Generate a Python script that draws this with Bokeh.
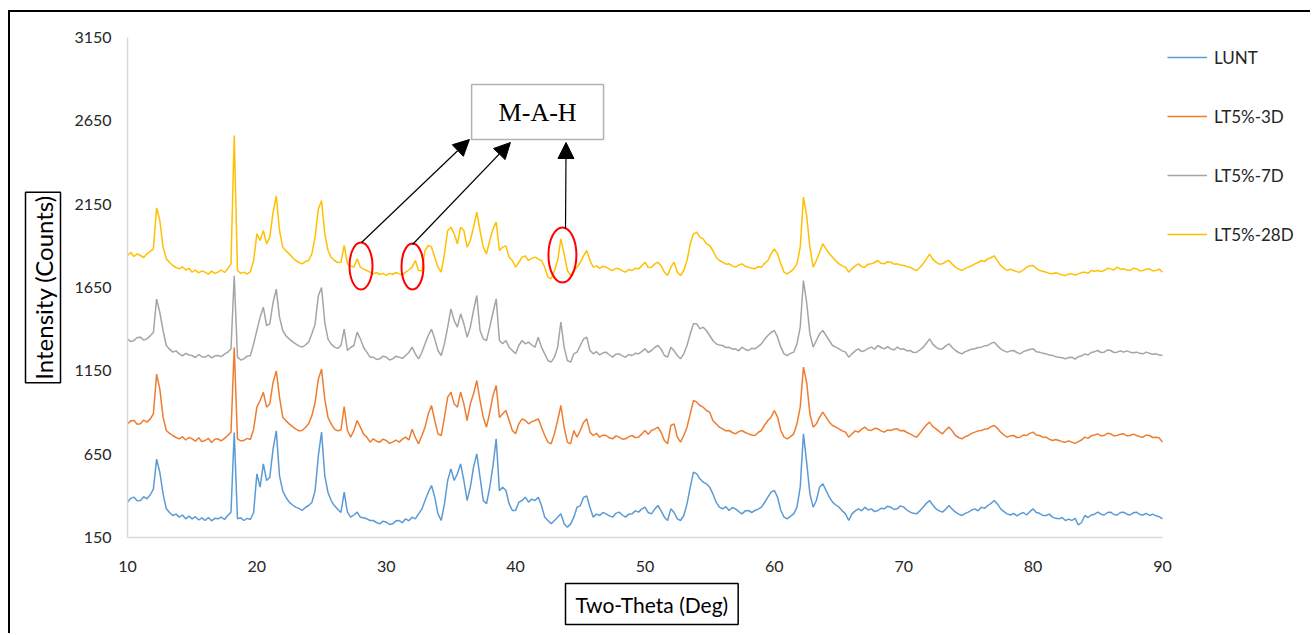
from bokeh.plotting import figure
from bokeh.models import (FixedTicker, Legend, LegendItem, Label, Arrow, NormalHead,
                          Range1d, BoxAnnotation, ColumnDataSource, Title)
from bokeh.embed import file_html
from bokeh.resources import INLINE

# ---------------- data ----------------
two_theta = [10 + 0.25 * i for i in range(321)]

lunt = [
    362, 385, 392, 370, 372, 395, 382, 405, 440, 620, 540, 412, 322, 300, 282, 290, 272, 285, 262, 278,
    262, 275, 255, 268, 252, 270, 250, 265, 262, 272, 258, 282, 302, 780, 262, 268, 252, 265, 258, 300,
    532, 452, 592, 492, 512, 680, 790, 520, 430, 390, 362, 345, 332, 325, 312, 330, 342, 360, 430, 640,
    782, 520, 420, 370, 340, 320, 300, 422, 302, 272, 285, 302, 272, 268, 262, 252, 252, 240, 232, 248,
    242, 228, 232, 250, 252, 238, 262, 250, 272, 262, 292, 320, 372, 422, 462, 392, 292, 252, 352, 492,
    562, 492, 532, 592, 492, 372, 452, 572, 652, 512, 372, 352, 450, 580, 742, 430, 452, 432, 352, 312,
    312, 362, 372, 392, 362, 380, 372, 392, 342, 272, 252, 232, 252, 272, 292, 232, 212, 230, 272, 332,
    340, 390, 400, 330, 272, 290, 282, 300, 292, 280, 272, 295, 302, 285, 272, 290, 292, 310, 302, 320,
    332, 300, 292, 320, 342, 310, 272, 252, 322, 300, 262, 252, 282, 352, 452, 542, 532, 502, 482, 472,
    452, 412, 362, 332, 322, 335, 312, 330, 322, 305, 292, 310, 312, 300, 312, 320, 332, 360, 392, 422,
    432, 392, 312, 272, 262, 278, 292, 332, 452, 772, 600, 412, 332, 372, 452, 472, 432, 392, 362, 345,
    332, 310, 292, 252, 292, 310, 322, 310, 332, 315, 322, 305, 312, 325, 322, 338, 332, 318, 322, 340,
    332, 315, 302, 295, 292, 310, 332, 355, 372, 345, 322, 310, 302, 320, 342, 320, 302, 290, 282, 295,
    302, 315, 322, 310, 332, 325, 342, 355, 372, 350, 322, 305, 292, 285, 295, 280, 292, 300, 285, 305,
    322, 300, 295, 282, 282, 290, 272, 265, 262, 270, 252, 260, 252, 265, 225, 240, 282, 270, 285, 290,
    302, 290, 285, 300, 302, 288, 285, 300, 302, 290, 285, 298, 302, 288, 285, 295, 282, 290, 280, 275,
    262,
]

lt5_3d = [
    832, 850, 852, 830, 832, 855, 842, 860, 892, 1130, 1040, 872, 792, 775, 762, 750, 742, 755, 735, 750,
    742, 728, 748, 725, 732, 745, 720, 740, 742, 730, 745, 762, 782, 1290, 742, 730, 732, 745, 738, 800,
    932, 972, 1022, 932, 952, 1080, 1150, 992, 872, 850, 832, 815, 802, 790, 792, 810, 832, 880, 960, 1100,
    1160, 980, 870, 830, 800, 790, 795, 936, 792, 752, 792, 852, 812, 770, 752, 722, 742, 728, 722, 740,
    732, 715, 722, 735, 722, 740, 752, 735, 800, 750, 712, 760, 812, 892, 942, 852, 772, 762, 872, 992,
    1022, 952, 932, 1022, 952, 852, 952, 1012, 1092, 972, 872, 812, 900, 1000, 1062, 870, 892, 912, 852, 792,
    772, 832, 862, 852, 832, 845, 852, 862, 812, 762, 722, 712, 772, 852, 942, 812, 722, 712, 792, 752,
    792, 840, 862, 782, 762, 775, 752, 765, 762, 748, 742, 760, 752, 740, 742, 755, 762, 750, 752, 770,
    792, 770, 792, 800, 812, 780, 732, 712, 822, 832, 752, 722, 762, 812, 892, 972, 962, 942, 932, 912,
    902, 852, 832, 812, 802, 790, 792, 780, 772, 785, 792, 780, 772, 765, 762, 780, 792, 825, 852, 872,
    912, 872, 792, 752, 742, 755, 772, 832, 932, 1172, 1080, 892, 812, 832, 872, 902, 872, 842, 822, 812,
    802, 790, 782, 752, 772, 790, 782, 800, 812, 795, 792, 805, 802, 790, 782, 795, 792, 800, 802, 790,
    792, 780, 772, 760, 752, 775, 802, 825, 842, 815, 802, 785, 772, 795, 812, 790, 762, 750, 742, 755,
    762, 775, 782, 790, 792, 800, 802, 815, 822, 805, 782, 765, 752, 760, 762, 750, 752, 765, 762, 775,
    782, 765, 762, 752, 752, 740, 732, 738, 732, 725, 722, 730, 722, 715, 725, 735, 752, 745, 760, 765,
    772, 760, 762, 775, 772, 760, 762, 770, 772, 760, 762, 770, 762, 755, 752, 765, 762, 750, 752, 748,
    722,
]

lt5_7d = [
    1342, 1325, 1332, 1350, 1352, 1335, 1342, 1360, 1380, 1580, 1500, 1392, 1302, 1280, 1262, 1270, 1252, 1240, 1255, 1245,
    1242, 1230, 1248, 1235, 1232, 1245, 1228, 1240, 1242, 1235, 1250, 1262, 1282, 1720, 1232, 1215, 1222, 1238, 1242, 1312,
    1392, 1472, 1532, 1422, 1432, 1560, 1640, 1472, 1392, 1360, 1342, 1325, 1312, 1300, 1292, 1305, 1322, 1372, 1430, 1600,
    1650, 1440, 1340, 1310, 1292, 1285, 1302, 1400, 1272, 1290, 1302, 1382, 1342, 1290, 1262, 1232, 1232, 1218, 1222, 1238,
    1232, 1215, 1222, 1238, 1232, 1225, 1242, 1260, 1292, 1252, 1222, 1260, 1312, 1362, 1400, 1342, 1272, 1242, 1312, 1412,
    1522, 1452, 1412, 1492, 1432, 1352, 1412, 1512, 1602, 1392, 1342, 1332, 1412, 1500, 1582, 1332, 1312, 1332, 1292, 1272,
    1252, 1302, 1332, 1312, 1322, 1305, 1292, 1352, 1292, 1252, 1212, 1202, 1232, 1292, 1442, 1292, 1212, 1202, 1252, 1262,
    1302, 1340, 1352, 1272, 1252, 1265, 1245, 1258, 1262, 1245, 1232, 1250, 1252, 1240, 1232, 1248, 1242, 1255, 1252, 1265,
    1282, 1260, 1272, 1290, 1302, 1280, 1242, 1232, 1292, 1270, 1242, 1222, 1252, 1302, 1372, 1432, 1432, 1402, 1412, 1392,
    1362, 1332, 1312, 1305, 1302, 1290, 1292, 1280, 1282, 1270, 1292, 1278, 1272, 1285, 1282, 1295, 1312, 1340, 1362, 1380,
    1392, 1352, 1292, 1252, 1242, 1255, 1262, 1312, 1412, 1692, 1560, 1372, 1292, 1332, 1372, 1392, 1362, 1332, 1302, 1292,
    1282, 1270, 1262, 1232, 1252, 1270, 1282, 1265, 1272, 1285, 1292, 1280, 1302, 1290, 1282, 1295, 1282, 1275, 1292, 1280,
    1282, 1270, 1272, 1260, 1262, 1275, 1292, 1315, 1342, 1310, 1292, 1280, 1282, 1300, 1312, 1290, 1272, 1260, 1252, 1265,
    1272, 1280, 1282, 1290, 1292, 1300, 1302, 1315, 1322, 1300, 1282, 1270, 1262, 1270, 1272, 1260, 1252, 1265, 1272, 1278,
    1282, 1265, 1262, 1255, 1252, 1245, 1242, 1235, 1232, 1228, 1222, 1230, 1232, 1220, 1235, 1240, 1252, 1245, 1260, 1265,
    1272, 1260, 1262, 1275, 1272, 1260, 1262, 1270, 1262, 1270, 1262, 1258, 1262, 1255, 1252, 1262, 1255, 1250, 1252, 1245,
    1242,
]

lt5_28d = [
    1842, 1860, 1836, 1852, 1842, 1830, 1852, 1865, 1882, 2128, 2052, 1892, 1822, 1800, 1782, 1770, 1762, 1775, 1755, 1765,
    1742, 1755, 1738, 1750, 1742, 1730, 1748, 1735, 1742, 1755, 1740, 1762, 1792, 2562, 1752, 1735, 1742, 1730, 1745, 1812,
    1972, 1932, 1992, 1912, 1952, 2100, 2200, 1992, 1892, 1870, 1852, 1830, 1812, 1800, 1792, 1805, 1812, 1852, 1952, 2120,
    2172, 1972, 1872, 1830, 1812, 1800, 1802, 1902, 1792, 1780, 1772, 1822, 1772, 1760, 1752, 1742, 1732, 1740, 1728, 1735,
    1722, 1735, 1728, 1740, 1732, 1725, 1742, 1755, 1772, 1812, 1752, 1750, 1872, 1902, 1892, 1832, 1772, 1742, 1852, 1992,
    2012, 1972, 1912, 2012, 1992, 1892, 1932, 2012, 2102, 1992, 1892, 1852, 1932, 2000, 2042, 1872, 1892, 1900, 1832, 1812,
    1772, 1800, 1832, 1840, 1812, 1825, 1832, 1820, 1812, 1772, 1712, 1702, 1752, 1812, 1942, 1852, 1752, 1722, 1752, 1772,
    1800, 1840, 1872, 1812, 1772, 1780, 1765, 1778, 1772, 1760, 1752, 1765, 1762, 1750, 1742, 1758, 1752, 1765, 1762, 1780,
    1802, 1770, 1772, 1790, 1802, 1780, 1742, 1722, 1772, 1802, 1742, 1722, 1752, 1812, 1912, 1972, 1982, 1952, 1942, 1912,
    1902, 1872, 1832, 1812, 1802, 1790, 1792, 1780, 1772, 1785, 1792, 1778, 1772, 1765, 1762, 1775, 1772, 1795, 1812, 1852,
    1882, 1852, 1792, 1742, 1732, 1745, 1762, 1792, 1892, 2192, 2080, 1892, 1772, 1812, 1862, 1912, 1882, 1852, 1832, 1810,
    1792, 1780, 1772, 1742, 1762, 1780, 1792, 1775, 1772, 1790, 1792, 1800, 1812, 1795, 1792, 1805, 1802, 1790, 1792, 1785,
    1782, 1775, 1772, 1760, 1752, 1770, 1792, 1820, 1850, 1820, 1802, 1790, 1792, 1805, 1812, 1790, 1772, 1760, 1752, 1765,
    1772, 1780, 1792, 1800, 1812, 1805, 1822, 1830, 1840, 1810, 1782, 1765, 1752, 1760, 1752, 1745, 1742, 1755, 1772, 1780,
    1782, 1765, 1752, 1748, 1742, 1735, 1732, 1738, 1732, 1725, 1722, 1730, 1732, 1725, 1732, 1740, 1742, 1735, 1752, 1748,
    1752, 1745, 1752, 1765, 1762, 1755, 1772, 1760, 1762, 1755, 1752, 1765, 1762, 1750, 1752, 1760, 1762, 1750, 1752, 1760,
    1742,
]

series_names = ["LUNT", "LT5%-3D", "LT5%-7D", "LT5%-28D"]
series_values = [lunt, lt5_3d, lt5_7d, lt5_28d]
series_colors = ["#5B9BD5", "#ED7D31", "#A5A5A5", "#FFC000"]

x_ticks = [10, 20, 30, 40, 50, 60, 70, 80, 90]
y_ticks = [150, 650, 1150, 1650, 2150, 2650, 3150]

x_title = "Two-Theta (Deg)"
y_title = "Intensity (Counts)"
note_text = "M-A-H"

# annotation geometry (data units)
note_box = dict(left=36.6, right=46.8, bottom=2538, top=2868)
arrows = [((28.09, 1920), (36.43, 2538)), ((32.03, 1908), (39.60, 2520)), ((43.86, 2004), (43.90, 2520))]
circles_x = [28.05, 32.03, 43.62]
circles_y = [1779, 1776, 1845]
circles_w = [1.78, 1.70, 2.16]
circles_h = [282, 276, 330]

for v in series_values:
    assert len(v) == len(two_theta), len(v)

FONT = "Lato"

# frame spans the canvas to its right edge; axis line limited to 10..90
p = figure(width=1302, height=623, x_range=Range1d(10, 101.6), y_range=Range1d(150, 3150),
           output_backend="svg", toolbar_location=None,
           min_border_left=117, min_border_right=0, min_border_top=25, min_border_bottom=98)
p.margin = (10, 0, 0, 8)
p.styles = {"border-top": "2px solid black", "border-left": "2px solid black"}
p.background_fill_color = "white"
p.border_fill_color = "white"
p.outline_line_color = None
p.grid.visible = False

p.xaxis.ticker = FixedTicker(ticks=x_ticks)
p.yaxis.ticker = FixedTicker(ticks=y_ticks)
p.xaxis.bounds = (10, 90)
for ax in (p.xaxis[0], p.yaxis[0]):
    ax.axis_line_color = "#D9D9D9"
    ax.axis_line_width = 1.5
    ax.major_tick_line_color = None
    ax.minor_tick_line_color = None
    ax.major_tick_out = 0
    ax.major_tick_in = 0
    ax.minor_tick_out = 0
    ax.minor_tick_in = 0
    ax.major_label_text_font = FONT
    ax.major_label_text_font_size = "16px"
    ax.major_label_text_color = "#262626"
p.xaxis.major_label_standoff = 23
p.yaxis.major_label_standoff = 16

# boxed axis titles
p.add_layout(Title(text=x_title, align="left", offset=438, standoff=14,
                   text_font=FONT, text_font_size="21px", text_font_style="normal",
                   text_color="black", border_line_color="black", border_line_width=1.5,
                   background_fill_color="white",
                   padding=dict(left=10, right=10, top=8, bottom=8)), "below")
p.add_layout(Title(text=y_title, align="center", standoff=22,
                   text_font=FONT, text_font_size="24px", text_font_style="normal",
                   text_color="black", border_line_color="black", border_line_width=1.5,
                   background_fill_color="white", padding=3), "left")

items = []
for name, vals, col in zip(series_names, series_values, series_colors):
    src = ColumnDataSource(dict(x=two_theta, y=vals))
    r = p.line("x", "y", source=src, line_color=col, line_width=1.5)
    items.append(LegendItem(label=name, renderers=[r]))

legend = Legend(items=items, location=(1040, 288), margin=0, padding=5, spacing=29,
                glyph_width=40, glyph_height=30, label_height=30, label_standoff=7,
                label_text_font=FONT, label_text_font_size="17px", label_text_color="#262626",
                border_line_color=None, background_fill_alpha=0)
p.add_layout(legend, "center")

# M-A-H note box and arrows
p.add_layout(BoxAnnotation(fill_color="white", fill_alpha=1, line_color="black", line_width=1.5,
                           **note_box))
p.add_layout(Label(x=(note_box["left"] + note_box["right"]) / 2, y=(note_box["bottom"] + note_box["top"]) / 2,
                   text=note_text, text_font="Liberation Serif", text_font_size="26px",
                   text_align="center", text_baseline="middle", text_color="black"))
for (xs, ys), (xe, ye) in arrows:
    p.add_layout(Arrow(end=NormalHead(size=16, fill_color="black", line_color="black"),
                       x_start=xs, y_start=ys, x_end=xe, y_end=ye,
                       line_color="black", line_width=1.2))

p.ellipse(x=circles_x, y=circles_y, width=circles_w, height=circles_h,
          fill_color=None, line_color="#FF0000", line_width=2)

open("out.html", "w").write(file_html(p, INLINE))
